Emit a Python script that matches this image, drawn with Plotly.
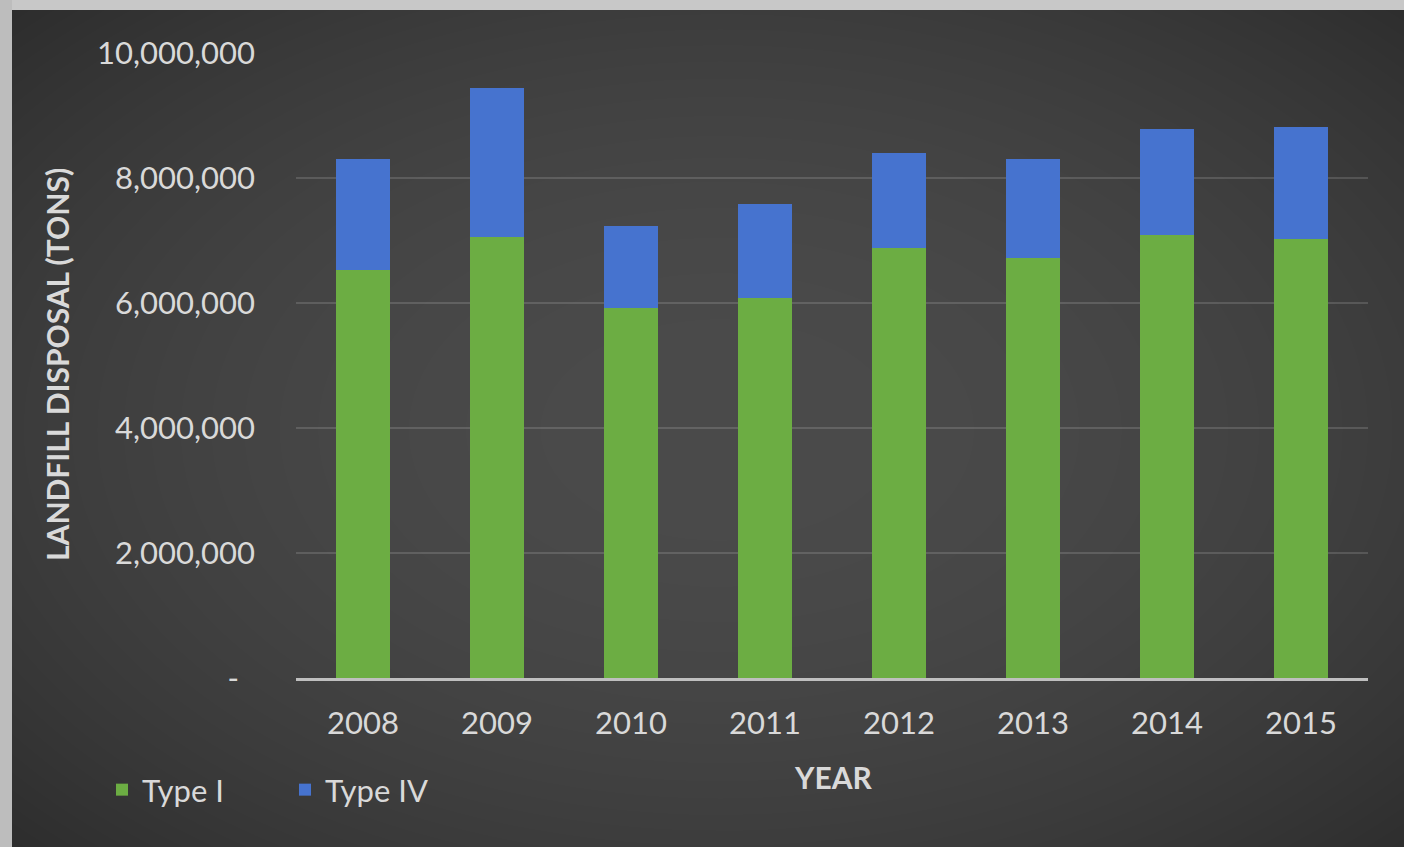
import math
import plotly.graph_objects as go

years = ["2008", "2009", "2010", "2011", "2012", "2013", "2014", "2015"]
type_i = [6530000, 7060000, 5920000, 6080000, 6880000, 6720000, 7090000, 7020000]
type_iv = [1770000, 2380000, 1310000, 1500000, 1520000, 1580000, 1690000, 1800000]
y_ticks = [0, 2000000, 4000000, 6000000, 8000000, 10000000]
y_tick_text = ["-\u00a0\u00a0", "2,000,000", "4,000,000", "6,000,000", "8,000,000", "10,000,000"]

W, H = 1404, 847
L, R, T, B = 296, 36, 53, 169
PW, PH = W - L - R, H - T - B

def px_x(p):
    return (p - L) / PW

def px_y(p):
    return (H - B - p) / PH

FONT = "Lato"
TXT = "#d9d9d9"

fig = go.Figure()
fig.add_trace(go.Bar(x=years, y=type_i, name="Type I",
                     marker=dict(color="#6cad43", line=dict(width=0))))
fig.add_trace(go.Bar(x=years, y=type_iv, name="Type IV",
                     marker=dict(color="#4673cf", line=dict(width=0))))

shapes = []
# radial gradient emulation (stacked translucent ellipses)
cx, cy = 720, 430
rx, ry = 760, 470
n = 34
Rmax = 1.38
for j in range(n):
    k = Rmax * math.sqrt(1 - j / n)
    shapes.append(dict(type="circle", xref="paper", yref="paper", layer="below",
                       x0=px_x(cx - rx * k), x1=px_x(cx + rx * k),
                       y0=px_y(cy + ry * k), y1=px_y(cy - ry * k),
                       fillcolor="rgba(255,255,255,0.0075)", line=dict(width=0)))
# light grey frame on top and left edges
shapes.append(dict(type="rect", xref="paper", yref="paper", layer="above",
                   x0=px_x(0), x1=px_x(W), y0=px_y(10), y1=px_y(0),
                   fillcolor="#c8c8c8", line=dict(width=0)))
shapes.append(dict(type="rect", xref="paper", yref="paper", layer="above",
                   x0=px_x(0), x1=px_x(12), y0=px_y(H), y1=px_y(0),
                   fillcolor="#bdbdbd", line=dict(width=0)))

fig.update_layout(
    width=W, height=H,
    margin=dict(l=L, r=R, t=T, b=B),
    paper_bgcolor="#282828",
    plot_bgcolor="rgba(0,0,0,0)",
    barmode="stack",
    bargap=0.59,
    font=dict(family=FONT, color=TXT),
    shapes=shapes,
    showlegend=True,
    legend=dict(orientation="h", x=px_x(102), xanchor="left", y=px_y(790), yanchor="middle",
                font=dict(size=31, color=TXT, family=FONT), bgcolor="rgba(0,0,0,0)",
                entrywidth=138, traceorder="normal"),
    xaxis=dict(showline=True, linecolor="#bfbfbf", linewidth=2.5, showgrid=False,
               ticks="", tickfont=dict(size=31, color=TXT, family=FONT), ticklabelstandoff=16),
    yaxis=dict(range=[0, 10000000], tickvals=y_ticks, ticktext=y_tick_text,
               showgrid=True, gridcolor="rgba(255,255,255,0.14)", gridwidth=2,
               zeroline=False, showline=False, ticks="",
               tickfont=dict(size=31, color=TXT, family=FONT), ticklabelstandoff=40),
    annotations=[
        dict(text="<b>YEAR</b>", xref="paper", yref="paper", x=px_x(833), y=px_y(777),
             showarrow=False, font=dict(size=30, color=TXT, family=FONT), xanchor="center", yanchor="middle"),
        dict(text="<b>LANDFILL DISPOSAL (TONS)</b>", xref="paper", yref="paper", x=px_x(57), y=px_y(365),
             showarrow=False, textangle=-90, font=dict(size=30, color=TXT, family=FONT),
             xanchor="center", yanchor="middle"),
    ],
)

fig.write_html("out.html", config={"displayModeBar": False},
               post_script="document.body.style.margin='0px';")
